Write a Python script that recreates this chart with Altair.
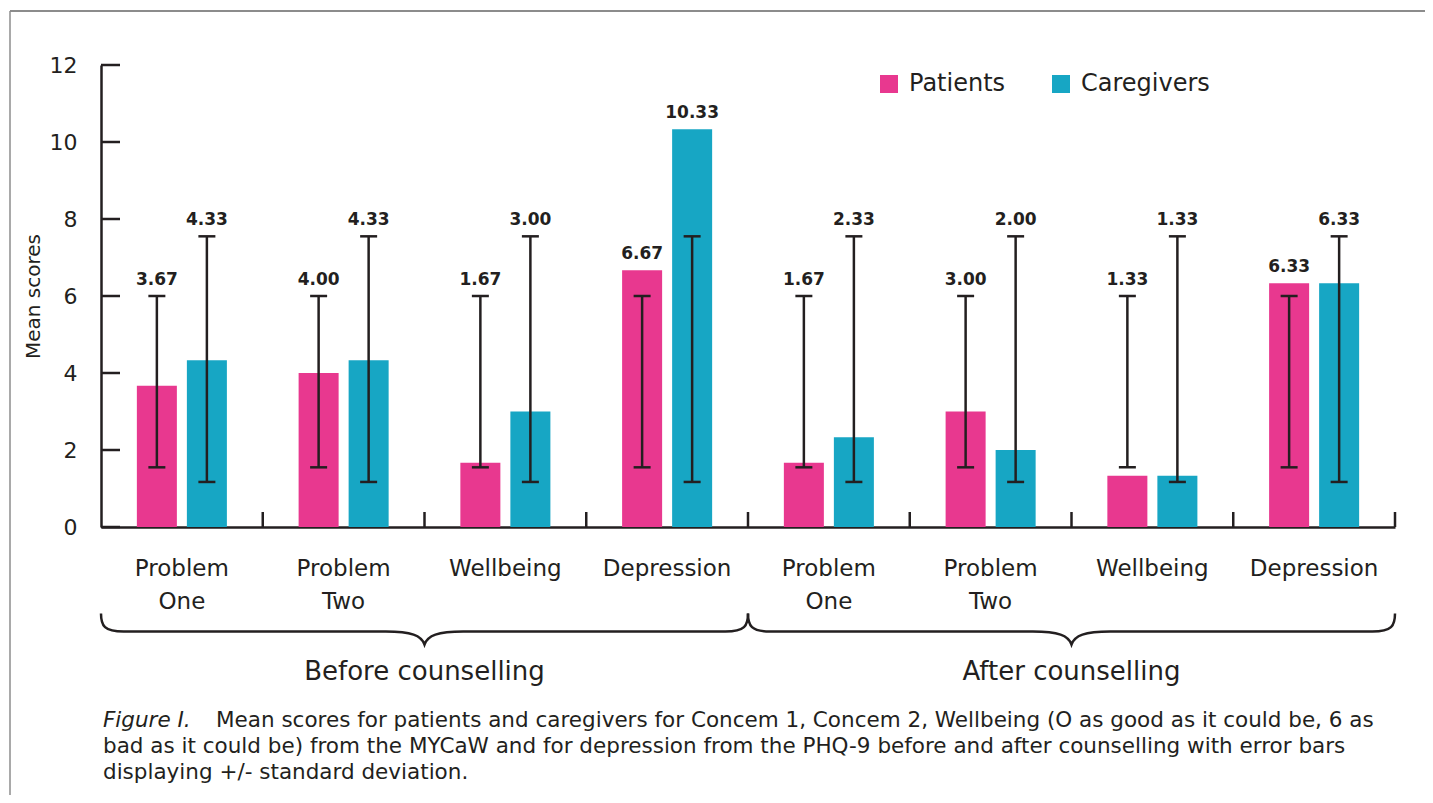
import altair as alt
import pandas as pd

# ---- data ----
group_ids = ["b1", "b2", "b3", "b4", "a1", "a2", "a3", "a4"]
group_labels = ["Problem\nOne", "Problem\nTwo", "Wellbeing", "Depression",
                "Problem\nOne", "Problem\nTwo", "Wellbeing", "Depression"]
series_names = ["Patients", "Caregivers"]
patients = [3.67, 4.00, 1.67, 6.67, 1.67, 3.00, 1.33, 6.33]
caregivers = [4.33, 4.33, 3.00, 10.33, 2.33, 2.00, 1.33, 6.33]
patients_err_low = [1.55, 1.55, 1.55, 1.55, 1.55, 1.55, 1.55, 1.55]
patients_err_high = [6.0, 6.0, 6.0, 6.0, 6.0, 6.0, 6.0, 6.0]
caregivers_err_low = [1.17, 1.17, 1.17, 1.17, 1.17, 1.17, 1.17, 1.17]
caregivers_err_high = [7.55, 7.55, 7.55, 7.55, 7.55, 7.55, 7.55, 7.55]
phases = ["Before counselling", "After counselling"]
groups_per_phase = 4
y_ticks = [0, 2, 4, 6, 8, 10, 12]
caption_lines = [
    "Mean scores for patients and caregivers for Concem 1, Concem 2, Wellbeing (O as good as it could be, 6 as",
    "bad as it could be) from the MYCaW and for depression from the PHQ-9 before and after counselling with error bars",
    "displaying +/- standard deviation.",
]
caption_lead = "Figure I."

# ---- tables ----
rows = []
for i, gid in enumerate(group_ids):
    rows.append(dict(id=gid, series="Patients", value=patients[i],
                     lo=patients_err_low[i], hi=patients_err_high[i]))
    rows.append(dict(id=gid, series="Caregivers", value=caregivers[i],
                     lo=caregivers_err_low[i], hi=caregivers_err_high[i]))
df = pd.DataFrame(rows)
cat_df = pd.DataFrame({"id": group_ids, "label": group_labels})
bound_df = pd.DataFrame({"pos": [i + 1 for i in range(len(group_ids))]})
phase_df = pd.DataFrame({"phase": phases,
                         "pos": [groups_per_phase * i + groups_per_phase / 2 for i in range(len(phases))]})
ytick_df = pd.DataFrame({"t": y_ticks})
cap_df = pd.DataFrame({"line": caption_lines, "n": list(range(len(caption_lines)))})

W, H = 1294, 462
PAD_L, PAD_T = 93, 57
TOTAL_W, TOTAL_H = 1417, 787
FONT = "DejaVu Sans"
INK = "#231f20"
PINK, CYAN = "#e8388f", "#17a6c4"

x_band = alt.X("id:N", sort=group_ids, scale=alt.Scale(paddingInner=0, paddingOuter=0), axis=None)
x_off = alt.XOffset("series:N", sort=series_names,
                    scale=alt.Scale(paddingInner=0.2, paddingOuter=0.717))
y_scale = alt.Scale(domain=[0, 12], nice=False)

bars = alt.Chart(df).mark_bar().encode(
    x=alt.X("id:N", sort=group_ids, scale=alt.Scale(paddingInner=0, paddingOuter=0),
            axis=alt.Axis(labels=False, ticks=False, title=None, domainColor=INK,
                          domainWidth=2.5, grid=False)),
    xOffset=x_off,
    y=alt.Y("value:Q", scale=y_scale,
            axis=alt.Axis(values=y_ticks, tickSize=0, labelPadding=24, labelFontSize=22,
                          labelFont=FONT, labelColor=INK, domainColor=INK, domainWidth=2.5,
                          grid=False, title="Mean scores", titleFont=FONT, titleFontSize=20,
                          titleFontWeight="normal", titleColor=INK, titlePadding=6)),
    color=alt.Color("series:N", sort=series_names,
                    scale=alt.Scale(domain=series_names, range=[PINK, CYAN]),
                    legend=alt.Legend(orient="none", legendX=776, legendY=7,
                                      direction="horizontal", title=None,
                                      symbolType="square", symbolSize=324,
                                      symbolStrokeWidth=0, labelFont=FONT,
                                      labelFontSize=24, labelColor=INK, labelOffset=8,
                                      columnPadding=43, padding=0)),
)

err = alt.Chart(df).mark_rule(color=INK, strokeWidth=2.5).encode(
    x=x_band, xOffset=x_off,
    y=alt.Y("lo:Q", scale=y_scale, title="Mean scores"), y2="hi:Q",
)

caps = alt.Chart(df).transform_fold(["lo", "hi"], as_=["which", "capv"]).mark_tick(
    color=INK, thickness=2.5, size=17, opacity=1
).encode(
    x=x_band, xOffset=x_off,
    y=alt.Y("capv:Q", scale=y_scale, title="Mean scores"),
)

vlabels = alt.Chart(df).transform_calculate(
    top="max(datum.value, datum.hi)"
).mark_text(font=FONT, fontSize=17, fontWeight="bold", color=INK, baseline="bottom", dy=-7).encode(
    x=x_band, xOffset=x_off,
    y=alt.Y("top:Q", scale=y_scale, title="Mean scores"),
    text=alt.Text("value:Q", format=".2f"),
)

ytick_marks = alt.Chart(ytick_df).mark_rule(color=INK, strokeWidth=2.5).encode(
    y=alt.Y("t:Q", scale=y_scale, title="Mean scores"),
    x=alt.value(0), x2=alt.value(19),
)

cat_labels = alt.Chart(cat_df).mark_text(
    font=FONT, fontSize=23, color=INK, baseline="top", lineBreak="\n", lineHeight=33
).encode(
    x=x_band, y=alt.value(H + 31), text="label:N",
)

x_q = alt.X("pos:Q", scale=alt.Scale(domain=[0, len(group_ids)], nice=False, zero=False), axis=None)

xtick_marks = alt.Chart(bound_df).mark_rule(color=INK, strokeWidth=2.5).encode(
    x=x_q, y=alt.value(H - 15), y2=alt.value(H),
)

brace_path = ("M -1 -0.048 C -1 -0.01 -0.99 0.008 -0.93 0.008 L -0.12 0.008 "
              "C -0.04 0.008 -0.01 0.02 0 0.048 C 0.01 0.02 0.04 0.008 0.12 0.008 "
              "L 0.93 0.008 C 0.99 0.008 1 -0.01 1 -0.048")
brace_w = W / len(phases)
braces = alt.Chart(phase_df).mark_point(
    shape=brace_path, size=brace_w * brace_w, filled=False, stroke=INK, strokeWidth=2.5, opacity=1
).encode(
    x=x_q, y=alt.value(H + 102),
)

phase_labels = alt.Chart(phase_df).mark_text(
    font=FONT, fontSize=26, color=INK, baseline="middle"
).encode(
    x=x_q, y=alt.value(H + 145), text="phase:N",
)

cap_lead = alt.Chart(pd.DataFrame({"t": [caption_lead]})).mark_text(
    font=FONT, fontSize=21.5, fontStyle="italic", color=INK, align="left", baseline="middle"
).encode(x=alt.value(2), y=alt.value(H + 194), text="t:N")

cap_text = alt.Chart(cap_df).transform_calculate(
    xx="datum.n == 0 ? 115 : 2", yy=f"{H + 194} + datum.n * 26"
).mark_text(
    font=FONT, fontSize=21.5, color=INK, align="left", baseline="middle"
).encode(x=alt.X("xx:Q", scale=None), y=alt.Y("yy:Q", scale=None), text="line:N")

frame_left = alt.Chart(pd.DataFrame({"a": [0]})).mark_rule(color="#8c8c8c", strokeWidth=1.5).encode(
    x=alt.value(-91), y=alt.value(-54), y2=alt.value(TOTAL_H - PAD_T)
)
frame_top = alt.Chart(pd.DataFrame({"a": [0]})).mark_rule(color="#8c8c8c", strokeWidth=2).encode(
    x=alt.value(-91), x2=alt.value(TOTAL_W - PAD_L), y=alt.value(-54)
)

chart = alt.layer(
    bars, err, caps, vlabels, ytick_marks, cat_labels, xtick_marks, braces, phase_labels,
    cap_lead, cap_text, frame_left, frame_top
).resolve_scale(x="independent").properties(
    width=W, height=H,
    autosize=alt.AutoSizeParams(type="none"),
    padding={"left": PAD_L, "top": PAD_T, "right": TOTAL_W - PAD_L - W, "bottom": TOTAL_H - PAD_T - H},
).configure_view(stroke=None).configure_axis(labelFont=FONT)

chart.save("out.html", embed_options={"renderer": "svg", "actions": False})
